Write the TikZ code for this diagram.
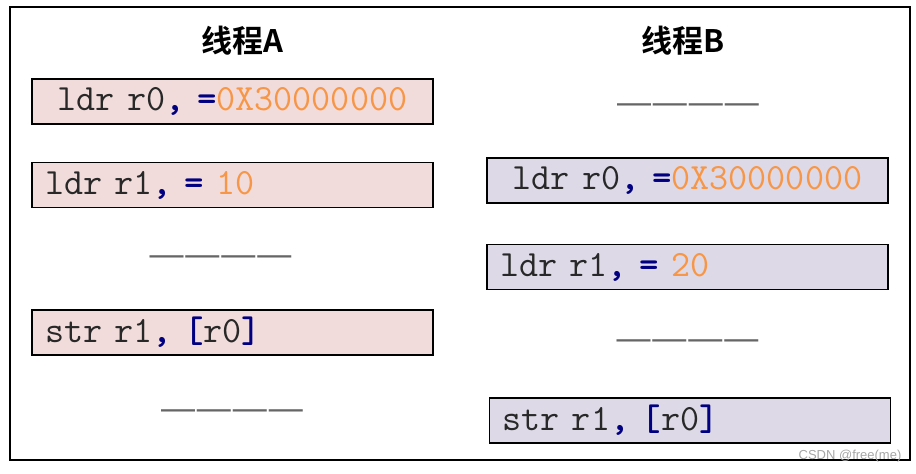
\documentclass[tikz,border=0pt]{standalone}
\usepackage{fontspec}
\setsansfont{Liberation Sans}
\newfontfamily\cjk{Noto Sans CJK SC}[BoldFont={Noto Sans CJK SC Bold}]
\newfontfamily\dashfont{Liberation Sans}
\usetikzlibrary{positioning}

\definecolor{pinkfill}{RGB}{242,220,219}
\definecolor{lilacfill}{RGB}{222,217,231}
\definecolor{numorange}{RGB}{247,150,70}
\definecolor{opblue}{RGB}{0,0,128}
\definecolor{codegray}{RGB}{40,40,40}

\newcommand{\op}[1]{\textcolor{opblue}{\textbf{#1}}}
\newcommand{\hexnum}[1]{\textcolor{numorange}{#1}}
\newcommand{\gapline}{—\kern2pt—\kern2pt—\kern2pt—}

\tikzset{
  codebox/.style={draw=black, line width=1.5pt, minimum height=45pt,
    text width=375pt, inner xsep=13pt, inner ysep=0pt, align=left,
    text=codegray, font=\ttfamily\fontsize{37}{37}\selectfont},
  boxA/.style={codebox, fill=pinkfill},
  boxB/.style={codebox, fill=lilacfill},
  gap/.style={inner sep=0pt, text=black!60, font=\dashfont\fontsize{34}{34}\selectfont},
  title/.style={inner sep=0pt, font=\cjk\bfseries\fontsize{31}{31}\selectfont}
}

\begin{document}
\begin{tikzpicture}[x=1pt, y=-1pt]
      \useasboundingbox (0,0) rectangle (916,474);
      \node[draw, line width=2pt, minimum width=900pt, minimum height=453pt, inner sep=0pt] (frame) at (460,233.5) {};
      \node[title] (tA) at (242,41) {线程A};
      \node[title] (tB) at (683,41) {线程B};
      % thread A
      \node[boxA, align=center] (a1) at (232.5,101.5) {ldr r0\op{,} \op{=}\hexnum{0X30000000}};
      \node[boxA, below=37pt of a1] (a2) {ldr r1\op{,} \op{=} \hexnum{10}};
      \node[gap] (ga1) at (220.5,261) {\gapline};
      \node[boxA, below=101pt of a2] (a3) {str r1\op{,} \op{[}r0\op{]}};
      \node[gap] (ga2) at (232,415) {\gapline};
      % thread B
      \node[gap] (gb1) at (688,109) {\gapline};
      \node[boxB, align=center] (b1) at (687.5,180.5) {ldr r0\op{,} \op{=}\hexnum{0X30000000}};
      \node[boxB, below=40pt of b1] (b2) {ldr r1\op{,} \op{=} \hexnum{20}};
      \node[gap] (gb2) at (687.5,345) {\gapline};
      \node[boxB, below=107pt of b2, xshift=2.5pt] (b3) {str r1\op{,} \op{[}r0\op{]}};
      \node[inner sep=0pt, text=gray!70, font=\sffamily\fontsize{13}{13}\selectfont] (wm) at (850,456) {CSDN @free(me)};
    \end{tikzpicture}
\end{document}
